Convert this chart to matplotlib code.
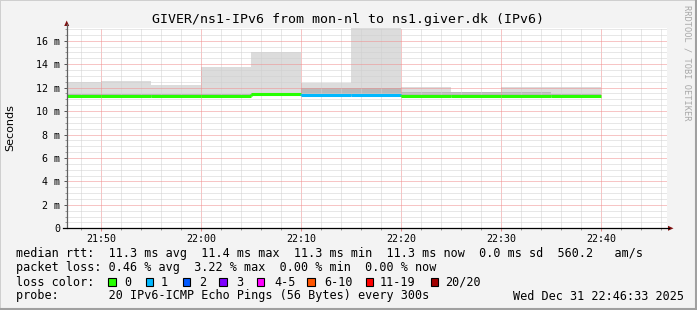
import matplotlib
matplotlib.use("Agg")
import matplotlib.pyplot as plt
from matplotlib.patches import Rectangle, Polygon
from matplotlib.lines import Line2D

# ---------------- data ----------------
times = ["21:45", "21:50", "21:55", "22:00", "22:05", "22:10",
         "22:15", "22:20", "22:25", "22:30", "22:35"]
median_ms = [11.31, 11.31, 11.31, 11.31, 11.42, 11.35, 11.35, 11.31, 11.31, 11.31, 11.31]
smoke_min_ms = [11.22, 11.22, 11.22, 11.22, 11.28, 11.25, 11.25, 11.22, 11.22, 11.22, 11.22]
smoke_core_ms = [11.45, 11.45, 11.45, 11.45, 11.55, 12.00, 12.00, 11.60, 11.60, 11.60, 11.45]
smoke_max_ms = [12.51, 12.59, 12.23, 13.79, 15.07, 12.40, 18.00, 12.03, 11.60, 12.03, 12.08]
loss_count = [0, 0, 0, 0, 0, 1, 1, 0, 0, 0, 0]

loss_labels = ["0", "1", "2", "3", "4-5", "6-10", "11-19", "20/20"]
loss_colors = ["#26ff00", "#00b8ff", "#0059ff", "#7e00ff", "#ff00ff",
               "#ff5500", "#ff0000", "#a10000"]

xtick_labels = ["21:50", "22:00", "22:10", "22:20", "22:30", "22:40"]
ytick_values = [0, 2, 4, 6, 8, 10, 12, 14, 16]

title = "GIVER/ns1-IPv6 from mon-nl to ns1.giver.dk (IPv6)"
legend_rows = [
    "median rtt:  11.3 ms avg  11.4 ms max  11.3 ms min  11.3 ms now  0.0 ms sd  560.2   am/s",
    "packet loss: 0.46 % avg  3.22 % max  0.00 % min  0.00 % now",
    "loss color:",
    "probe:       20 IPv6-ICMP Echo Pings (56 Bytes) every 300s",
]
date_text = "Wed Dec 31 22:46:33 2025"
view_start, view_end = "21:46:33", "22:46:33"
interval_min = 5

# ---------------- helpers ----------------
W, H = 697, 310


def to_min(s):
    parts = [int(p) for p in s.split(":")]
    m = (parts[0] - 21) * 60 + parts[1]
    if len(parts) > 2:
        m += parts[2] / 60.0
    return m


def fx(px):
    return px / W


def fy(py):
    return 1 - py / H


mono = "DejaVu Sans Mono"
plt.rcParams["font.family"] = mono

fig = plt.figure(figsize=(W / 100, H / 100), dpi=100, facecolor="#f3f3f3")

# frame shading
fig.add_artist(Rectangle((0, 0), 1, 1, transform=fig.transFigure, fill=False,
                         edgecolor="#cfcfcf", lw=1.4))
fig.add_artist(Line2D([fx(0), fx(W)], [fy(H - 1), fy(H - 1)], color="#a0a0a0", lw=1.5))
fig.add_artist(Line2D([fx(W - 1), fx(W - 1)], [fy(0), fy(H)], color="#a0a0a0", lw=1.5))

ax_l, ax_r, ax_t, ax_b = 66.7, 666.7, 28.3, 228.3
ax = fig.add_axes([fx(ax_l), fy(ax_b), (ax_r - ax_l) / W, (ax_b - ax_t) / H])
ax.set_facecolor("white")

x0 = [to_min(t) for t in times]
ymax = 17.06
ax.set_xlim(to_min(view_start), to_min(view_end))
ax.set_ylim(0, ymax)

# smoke
outer_h = [mx - mn for mx, mn in zip(smoke_max_ms, smoke_min_ms)]
ax.bar(x0, outer_h, width=interval_min, bottom=smoke_min_ms, align="edge",
       color="#dcdcdc", linewidth=0, zorder=1)
core_h = [c - mn for c, mn in zip(smoke_core_ms, smoke_min_ms)]
ax.bar(x0, core_h, width=interval_min, bottom=smoke_min_ms, align="edge",
       color="#b9b9b9", linewidth=0, zorder=1.1)

# median line colored by loss
seg_colors = [loss_colors[c if c < 4 else 4] for c in loss_count]
ax.hlines(median_ms, x0, [x + interval_min for x in x0], colors=seg_colors,
          linewidth=2.2, zorder=4, capstyle="butt")
for i in range(1, len(x0)):
    if median_ms[i] != median_ms[i - 1]:
        ax.vlines(x0[i], min(median_ms[i], median_ms[i - 1]),
                  max(median_ms[i], median_ms[i - 1]),
                  colors=seg_colors[i], linewidth=2.2, zorder=4)

# ticks & grid
major_x = [to_min(t) for t in xtick_labels]
ax.set_xticks(major_x)
ax.set_xticklabels(xtick_labels)
minor_x = []
m = 48
while m <= 106:
    if m % 10 != 0:
        minor_x.append(m)
    m += 2
ax.set_xticks(minor_x, minor=True)
ax.set_yticks(ytick_values)
ax.set_yticklabels(["0" if v == 0 else f"{v} m" for v in ytick_values])
ax.set_yticks([v / 2 for v in range(0, 35) if v % 4 != 0], minor=True)

ax.grid(which="minor", color="#d0d0d0", linestyle=(0, (1, 1)), linewidth=0.72)
ax.grid(which="major", color="#f08c8c", linestyle=(0, (1, 1)), linewidth=0.72)
ax.set_axisbelow(False)

ax.tick_params(axis="both", which="major", labelsize=7.2, direction="out")
ax.tick_params(axis="y", which="major", length=2.5, width=0.7, color="#555555", pad=2.4)
ax.tick_params(axis="y", which="minor", length=1.5, width=0.7, color="#999999")
ax.tick_params(axis="x", which="major", length=2.2, width=0.7, color="#e08080", pad=2.0)
ax.tick_params(axis="x", which="minor", length=1.5, width=0.7, color="#999999")
for s in ax.spines.values():
    s.set_visible(False)

# axes lines with arrows
fig.add_artist(Line2D([fx(ax_l), fx(ax_l)], [fy(ax_b), fy(24)], color="#606060", lw=0.9))
fig.add_artist(Line2D([fx(63), fx(669)], [fy(ax_b), fy(ax_b)], color="#000000", lw=0.9))
fig.add_artist(Polygon([[fx(ax_l - 2.5), fy(26)], [fx(ax_l + 2.5), fy(26)], [fx(ax_l), fy(20.5)]],
                       closed=True, transform=fig.transFigure, color="#7f1010", lw=0))
fig.add_artist(Polygon([[fx(668), fy(ax_b - 2.5)], [fx(668), fy(ax_b + 2.5)], [fx(673.5), fy(ax_b)]],
                       closed=True, transform=fig.transFigure, color="#7f1010", lw=0))

# title & labels
fig.text(fx(347.5), fy(23.3), title, ha="center", va="baseline", fontsize=9.5, color="#000000")
fig.text(fx(10), fy(128), "Seconds", rotation=90, ha="center", va="center",
         fontsize=8, family="DejaVu Sans", color="#000000")
fig.text(fx(687), fy(5), "RRDTOOL / TOBI OETIKER", rotation=270, ha="center", va="top",
         fontsize=6.2, color="#a8a8a8")

# legend
baselines = [257.5, 271.5, 285.5, 299.5]
for row, b in zip(legend_rows, baselines):
    fig.text(fx(16), fy(b), row, ha="left", va="baseline", fontsize=8.5, color="#000000")
fig.text(fx(512.7), fy(299.5), date_text, ha="left", va="baseline", fontsize=8.5, color="#000000")

box_x = [108.3, 145.7, 182.7, 219.3, 256.7, 307.3, 365.7, 430.7]
label_x = [124, 161, 199, 236, 274, 324, 380, 445]
for bx, lx, lab, col in zip(box_x, label_x, loss_labels, loss_colors):
    fig.add_artist(Rectangle((fx(bx), fy(286)), 7.7 / W, 7.7 / H, transform=fig.transFigure,
                             facecolor=col, edgecolor="#000000", lw=0.8))
    fig.text(fx(lx), fy(285.5), lab, ha="left", va="baseline", fontsize=8.5, color="#000000")

fig.savefig("out.png", dpi=100, facecolor=fig.get_facecolor())
